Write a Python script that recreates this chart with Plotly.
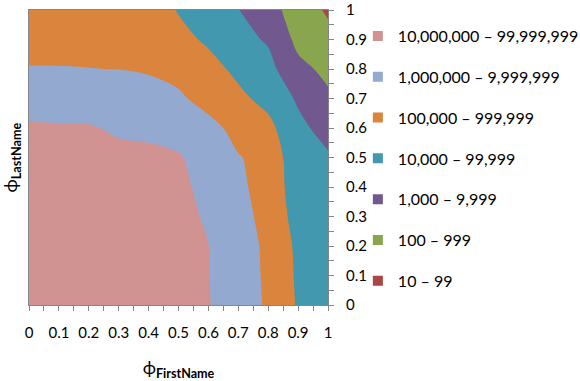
import plotly.graph_objects as go

# Grid coordinates
phi_first = [0, 0.1, 0.2, 0.3, 0.4, 0.5, 0.6, 0.7, 0.8, 0.9, 1.0]
phi_last = [0, 0.1, 0.2, 0.3, 0.4, 0.5, 0.6, 0.7, 0.8, 0.9, 1.0]

# log10(count), one row per phi_last value
row_y00 = [7.70, 7.70, 7.68, 7.65, 7.60, 7.50, 7.05, 6.40, 5.90, 4.90, 4.20]
row_y01 = [7.70, 7.70, 7.68, 7.64, 7.58, 7.48, 7.03, 6.38, 5.87, 4.85, 4.20]
row_y02 = [7.68, 7.68, 7.66, 7.62, 7.55, 7.43, 7.01, 6.35, 5.85, 4.79, 4.19]
row_y03 = [7.62, 7.62, 7.60, 7.56, 7.48, 7.30, 6.88, 6.20, 5.815, 4.56, 4.18]
row_y04 = [7.55, 7.55, 7.52, 7.45, 7.38, 7.15, 6.81, 6.10, 5.80, 4.35, 4.17]
row_y05 = [7.40, 7.40, 7.36, 7.19, 7.12, 7.04, 6.79, 6.05, 5.70, 4.30, 4.12]
row_y06 = [7.10, 7.08, 7.06, 6.90, 6.88, 6.80, 6.30, 5.70, 5.25, 4.25, 3.63]
row_y07 = [6.60, 6.60, 6.58, 6.50, 6.40, 6.15, 5.65, 5.20, 4.72, 3.87, 3.15]
row_y08 = [6.02, 6.02, 6.01, 5.99, 5.90, 5.70, 5.30, 4.80, 4.30, 3.25, 2.78]
row_y09 = [5.85, 5.84, 5.81, 5.70, 5.50, 5.25, 4.87, 4.30, 3.90, 2.75, 2.23]
row_y10 = [5.80, 5.78, 5.72, 5.60, 5.45, 4.95, 4.48, 4.02, 3.49, 2.40, 1.90]

z_rows = [row_y00, row_y01, row_y02, row_y03, row_y04, row_y05,
          row_y06, row_y07, row_y08, row_y09, row_y10]

band_labels = ["10,000,000 – 99,999,999", "1,000,000 – 9,999,999",
               "100,000 – 999,999", "10,000 – 99,999", "1,000 – 9,999",
               "100 – 999", "10 – 99"]
band_colors = ["#D19392", "#94A9CF", "#DB843D", "#4198AF", "#71588F",
               "#89A54E", "#AA4643"]

x_ticks = [0, 0.1, 0.2, 0.3, 0.4, 0.5, 0.6, 0.7, 0.8, 0.9, 1]
y_ticks = [0, 0.1, 0.2, 0.3, 0.4, 0.5, 0.6, 0.7, 0.8, 0.9, 1]

FONT = "Lato"
AXIS_GRAY = "#868686"

# colorscale: lowest band (red) to highest band (pink)
low_to_high = band_colors[::-1]
n = len(low_to_high)
colorscale = [[i / (n - 1), c] for i, c in enumerate(low_to_high)]

fig = go.Figure()
fig.add_trace(go.Contour(
    x=phi_first, y=phi_last, z=z_rows,
    autocontour=False,
    contours=dict(start=2, end=7, size=1, coloring="fill", showlines=False),
    line=dict(width=0),
    colorscale=colorscale,
    showscale=False,
    hoverinfo="skip",
    showlegend=False,
))

for i, (lab, col) in enumerate(zip(band_labels, band_colors)):
    fig.add_trace(go.Scatter(
        x=[None], y=[None], mode="markers", name=lab,
        marker=dict(symbol="square", size=10, color=col),
        legendgroup=f"g{i}", showlegend=True,
    ))

fig.update_layout(
    width=580, height=381,
    margin=dict(l=29, r=252, t=10, b=76, autoexpand=False),
    paper_bgcolor="white", plot_bgcolor="white",
    font=dict(family=FONT, size=15, color="#000000"),
    legend=dict(xref="container", yref="container",
                x=0.617, y=0.950, xanchor="left", yanchor="top",
                tracegroupgap=17, font=dict(family=FONT, size=16),
                maxheight=400,
                itemclick=False, bgcolor="rgba(0,0,0,0)"),
    xaxis=dict(range=[0, 1], tickvals=x_ticks, ticks="outside", ticklen=5,
               tickcolor=AXIS_GRAY, showline=True, linecolor=AXIS_GRAY,
               mirror=True, showgrid=False, zeroline=False,
               ticklabeloverflow="allow",
               minor=dict(dtick=0.05, ticks="outside", ticklen=5,
                          tickcolor=AXIS_GRAY, showgrid=False),
               ticklabelstandoff=9,
               title=dict(text="ϕ<sub><b>FirstName</b></sub>",
                          font=dict(size=18), standoff=22)),
    yaxis=dict(range=[0, 1], tickvals=y_ticks, side="right", ticks="outside",
               ticklen=5, tickcolor=AXIS_GRAY, showline=True,
               linecolor=AXIS_GRAY, mirror=True, showgrid=False,
               zeroline=False, ticklabeloverflow="allow",
               minor=dict(dtick=0.05, ticks="outside", ticklen=5,
                          tickcolor=AXIS_GRAY, showgrid=False),
               ticklabelstandoff=9),
    annotations=[dict(text="ϕ<sub><b>LastName</b></sub>", textangle=-90,
                      x=-0.057, y=0.5, xref="paper", yref="paper",
                      xanchor="center", yanchor="middle",
                      showarrow=False, font=dict(size=18))],
)

fig.write_html("out.html", config={"displayModeBar": False},
               post_script="document.body.style.margin='0';")
